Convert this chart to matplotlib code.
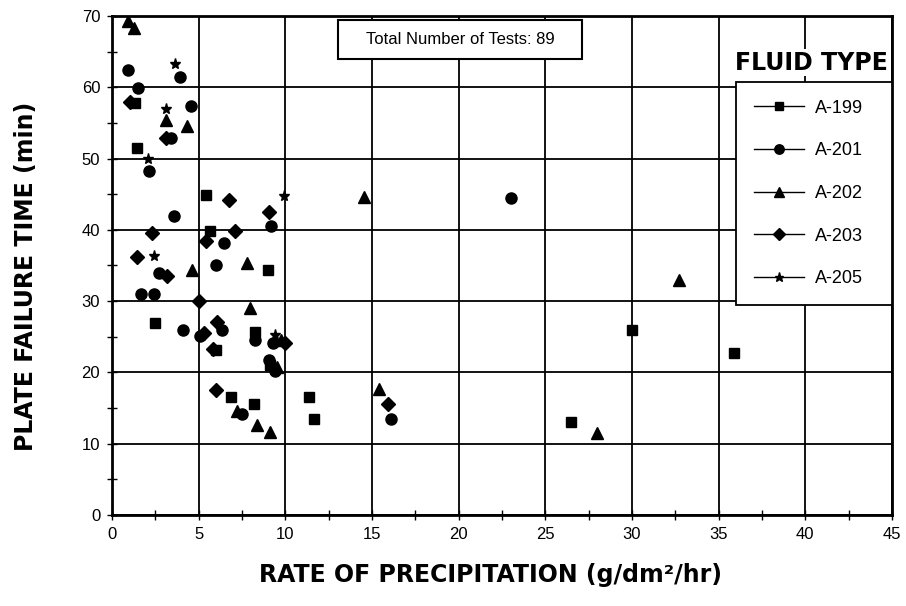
import matplotlib
matplotlib.use('Agg')
from matplotlib import pyplot as plt
from matplotlib.patches import Rectangle
from matplotlib.ticker import MultipleLocator

# data
a199_x = [1.35, 1.45, 5.45, 5.65, 9.0, 2.5, 8.25, 6.0, 9.1, 6.85, 8.2, 11.35, 11.65, 26.5, 30.0, 35.9]
a199_y = [57.8, 51.5, 44.9, 39.9, 34.3, 27.0, 25.7, 23.1, 21.0, 16.6, 15.6, 16.6, 13.5, 13.0, 26.0, 22.7]

a201_x = [0.95, 1.5, 3.95, 4.55, 3.4, 2.15, 3.55, 9.15, 6.45, 6.0, 2.7, 1.7, 2.45, 4.1, 6.35, 5.05,
          8.25, 9.3, 9.05, 9.4, 7.5, 16.1, 23.0]
a201_y = [62.4, 59.9, 61.5, 57.4, 52.9, 48.3, 41.9, 40.6, 38.2, 35.0, 33.9, 31.0, 31.0, 26.0, 26.0, 25.1,
          24.5, 24.1, 21.8, 20.2, 14.1, 13.4, 44.5]

a202_x = [0.95, 1.25, 3.1, 4.3, 4.6, 7.8, 7.95, 9.75, 9.5, 7.2, 8.35, 9.1, 14.55, 15.4, 32.7, 28.0]
a202_y = [69.3, 68.3, 55.4, 54.5, 34.3, 35.4, 29.0, 24.6, 20.8, 14.6, 12.6, 11.6, 44.6, 17.7, 33.0, 11.5]

a203_x = [1.05, 3.1, 6.75, 9.05, 7.1, 2.3, 5.45, 1.45, 3.15, 5.0, 6.05, 5.3, 10.0, 5.85, 6.0, 15.95]
a203_y = [58.0, 52.9, 44.2, 42.5, 39.9, 39.5, 38.4, 36.2, 33.5, 30.0, 27.1, 25.5, 24.1, 23.3, 17.6, 15.5]

a205_x = [3.65, 3.1, 2.05, 9.9, 2.4, 9.4]
a205_y = [63.2, 57.0, 49.9, 44.8, 36.4, 25.2]

series = [
    ('A-199', a199_x, a199_y, 's', 7.2),
    ('A-201', a201_x, a201_y, 'o', 8),
    ('A-202', a202_x, a202_y, '^', 8.5),
    ('A-203', a203_x, a203_y, 'D', 7),
    ('A-205', a205_x, a205_y, '*', 8),
]

plain = 'Liberation Sans'

fig = plt.figure(figsize=(9.06, 6.06), dpi=100)
ax = fig.add_axes([0.1236, 0.1502, 0.8609, 0.8234])

for name, xs, ys, mk, ms in series:
    ax.plot(xs, ys, linestyle='none', marker=mk, markersize=ms, color='black', zorder=3)

ax.set_xlim(0, 45)
ax.set_ylim(0, 70)
ax.xaxis.set_major_locator(MultipleLocator(5))
ax.xaxis.set_minor_locator(MultipleLocator(2.5))
ax.yaxis.set_major_locator(MultipleLocator(10))
ax.yaxis.set_minor_locator(MultipleLocator(5))
ax.grid(True, which='major', color='black', linewidth=1.3)
ax.set_axisbelow(True)
for s in ax.spines.values():
    s.set_linewidth(2)
ax.tick_params(which='both', direction='inout', length=7, width=1, pad=5)
for lab in ax.get_xticklabels() + ax.get_yticklabels():
    lab.set_fontfamily(plain)
    lab.set_fontsize(12)

ax.set_xlabel('RATE OF PRECIPITATION (g/dm²/hr)', fontsize=17, fontweight='bold')
ax.set_ylabel('PLATE FAILURE TIME (min)', fontsize=17, fontweight='bold')
ax.xaxis.set_label_coords(0.485, -0.097)
ax.yaxis.set_label_coords(-0.095, 0.479)

# note box at the top
ax.add_patch(Rectangle((13.05, 63.9), 14.05, 5.6, facecolor='white', edgecolor='black',
                       linewidth=1.5, zorder=4))
ax.text(20.1, 66.7, 'Total Number of Tests: 89', fontsize=12, family=plain,
        ha='center', va='center', zorder=5)

# legend
handles = []
for name, xs, ys, mk, ms in series:
    h, = ax.plot([], [], color='black', linewidth=1, marker=mk, markersize=ms * 0.85, label=name)
    handles.append(h)
leg = ax.legend(handles=handles, loc='upper left', bbox_to_anchor=(0.7996, 0.4309, 0.2004, 0.4374),
                mode='expand', borderaxespad=0, borderpad=1.0, labelspacing=1.42,
                handlelength=2.8, handletextpad=0.6, fancybox=False, framealpha=1,
                edgecolor='black', prop={'family': plain, 'size': 13})
leg.get_frame().set_linewidth(1.3)
leg.set_zorder(6)

ax.text(0.897, 0.906, 'FLUID TYPE', transform=ax.transAxes, fontsize=17, fontweight='bold',
        ha='center', va='center', zorder=6,
        bbox=dict(facecolor='white', edgecolor='none', pad=1))

fig.savefig('out.png', dpi=100)
